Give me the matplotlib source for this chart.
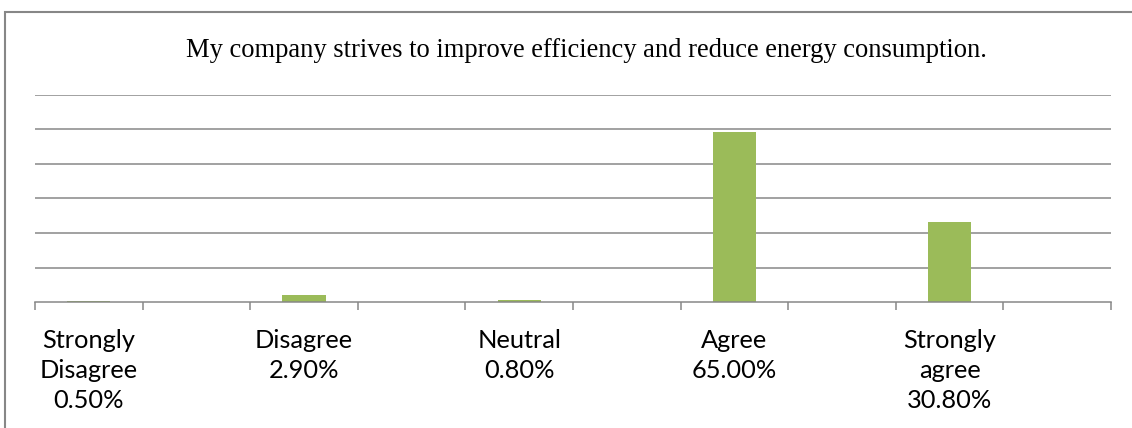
import matplotlib
matplotlib.use("Agg")
import matplotlib.pyplot as plt
from matplotlib.patches import Rectangle
import numpy as np

# Survey responses
categories = ["Strongly Disagree", "Disagree", "Neutral", "Agree", "Strongly agree"]
tick_labels = ["Strongly\nDisagree\n0.50%", "Disagree\n2.90%", "Neutral\n0.80%",
               "Agree\n65.00%", "Strongly\nagree\n30.80%"]
values = [0.5, 2.9, 0.8, 65.0, 30.8]
title = "My company strives to improve efficiency and reduce energy consumption."

GRID = "#878787"
BAR = "#9BBB59"

fig = plt.figure(figsize=(11.32, 4.28), dpi=100)

# outer chart frame
fig.patches.append(Rectangle((5 / 1132, -0.1), 1.2, 1.1 - 12 / 428,
                             transform=fig.transFigure, fill=False,
                             edgecolor=GRID, linewidth=1.5, zorder=0))

ax = fig.add_axes([35 / 1132, 1 - 302.3 / 428, (1111 - 35) / 1132, (302.3 - 94.7) / 428])

# each response sits in every other slot of a 10-slot category axis
slots = np.arange(len(values)) * 2
ax.bar(slots, values, width=0.4, color=BAR, zorder=3)

ax.set_xlim(-0.5, 9.5)
y_step = 13.23
ax.set_ylim(0, 6 * y_step)
ax.set_yticks(np.arange(1, 7) * y_step)
ax.yaxis.grid(True, color=GRID, linewidth=1.1)
ax.tick_params(axis="y", left=False, labelleft=False)

ax.set_xticks(slots)
ax.set_xticklabels(tick_labels, fontsize=18.3, family="Lato", linespacing=1.37)
ax.set_xticks(np.arange(-0.5, 10.0, 1.0), minor=True)
ax.tick_params(axis="x", which="major", length=0, pad=19)
ax.tick_params(axis="x", which="minor", length=6, width=1.1, color=GRID, direction="out")

for s in ["top", "right", "left"]:
    ax.spines[s].set_visible(False)
ax.spines["bottom"].set_color(GRID)
ax.spines["bottom"].set_linewidth(1.1)
ax.spines["bottom"].set_zorder(4)

fig.text(586 / 1132, 1 - 57 / 428, title, ha="center", va="baseline",
         family="Liberation Serif", fontsize=19.1, color="black")

fig.savefig("out.png", dpi=100)
